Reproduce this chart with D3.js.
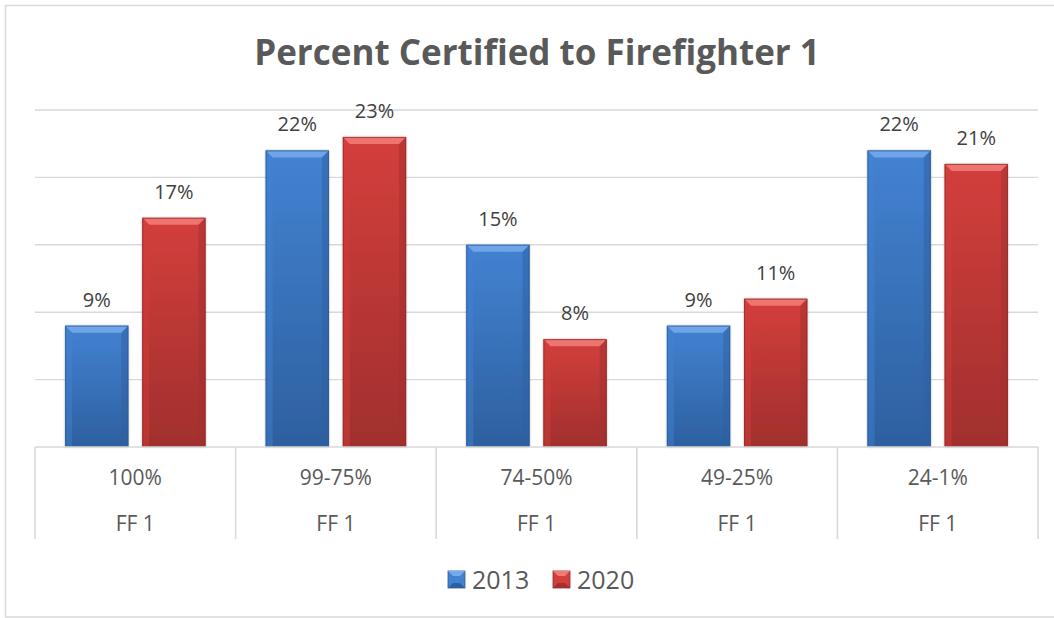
<!DOCTYPE html>
<html>
<head>
<meta charset="utf-8">
<script src="https://cdn.jsdelivr.net/npm/d3@7"></script>
<style>
  html, body { margin: 0; padding: 0; background: #fff; }
  svg { display: block; font-family: "Open Sans", Lato, sans-serif; }
</style>
</head>
<body>
<svg id="chart" width="1054" height="618"></svg>
<script>
// Share of departments certified to Firefighter 1, by certification band
const categories = ["100%", "99-75%", "74-50%", "49-25%", "24-1%"];
const subLabel = "FF 1";
const seriesNames = ["2013", "2020"];
const values2013 = [9, 22, 15, 9, 22];
const values2020 = [17, 23, 8, 11, 21];
const yTicks = [0, 5, 10, 15, 20, 25];

const palette = {
  "2013": { light: "#74a9ea", mid: "#4382d2", dark: "#2d609f", edge: "#2a5a94" },
  "2020": { light: "#f07a76", mid: "#d33f3c", dark: "#a12f2d", edge: "#8f2a28" }
};

const svg = d3.select("#chart");
const textColor = "#595959";
const gridColor = "#d9d9d9";

const plot = { left: 35, right: 1038, top: 110, bottom: 447 };

const x0 = d3.scaleBand().domain(categories).range([plot.left, plot.right]).padding(0);
const x1 = d3.scaleBand().domain(seriesNames).range([0, x0.bandwidth()])
  .paddingInner(0.18).paddingOuter(0.39);
const y = d3.scaleLinear().domain([0, 25]).range([plot.bottom, plot.top]);

// chart frame
svg.append("rect")
  .attr("x", 5.5).attr("y", 5.5).attr("width", 1060).attr("height", 611.5)
  .attr("fill", "none").attr("stroke", gridColor).attr("stroke-width", 1.5);

// title
svg.append("text")
  .attr("x", 537).attr("y", 65)
  .attr("text-anchor", "middle")
  .attr("font-size", 35).attr("font-weight", "bold")
  .attr("fill", textColor)
  .text("Percent Certified to Firefighter 1");

// horizontal gridlines
svg.append("g").selectAll("line").data(yTicks.slice(1)).join("line")
  .attr("x1", plot.left).attr("x2", plot.right)
  .attr("y1", d => y(d)).attr("y2", d => y(d))
  .attr("stroke", gridColor).attr("stroke-width", 1.4);

// gradients per series
const defs = svg.append("defs");
seriesNames.forEach(s => {
  const g = defs.append("linearGradient").attr("id", "grad" + s)
    .attr("x1", 0).attr("y1", 0).attr("x2", 0).attr("y2", 1);
  g.append("stop").attr("offset", "0%").attr("stop-color", palette[s].mid);
  g.append("stop").attr("offset", "100%").attr("stop-color", palette[s].dark);
});
const f = defs.append("filter").attr("id", "shadow").attr("x", "-20%").attr("y", "-20%")
  .attr("width", "140%").attr("height", "140%");
f.append("feDropShadow").attr("dx", 0).attr("dy", 0).attr("stdDeviation", 1.2)
  .attr("flood-color", "#000").attr("flood-opacity", 0.35);

const rows = categories.map((c, i) => ({
  cat: c,
  bars: [
    { series: "2013", value: values2013[i] },
    { series: "2020", value: values2020[i] }
  ]
}));

const groups = svg.append("g").selectAll("g").data(rows).join("g")
  .attr("transform", d => `translate(${x0(d.cat)},0)`);

const bars = groups.selectAll("g.bar").data(d => d.bars).join("g").attr("class", "bar");

bars.each(function(d) {
  const g = d3.select(this);
  const bx = x1(d.series), bw = x1.bandwidth();
  const top = y(d.value), bot = y(0), h = bot - top;
  const c = palette[d.series];
  const b = 7; // bevel depth
  g.append("rect").attr("x", bx).attr("y", top).attr("width", bw).attr("height", h)
    .attr("fill", `url(#grad${d.series})`).attr("filter", "url(#shadow)");
  // top bevel
  g.append("path")
    .attr("d", `M${bx},${top}L${bx + bw},${top}L${bx + bw - b},${top + b}L${bx + b},${top + b}Z`)
    .attr("fill", c.light).attr("opacity", 0.9);
  // left bevel
  g.append("path")
    .attr("d", `M${bx},${top}L${bx + b},${top + b}L${bx + b},${bot}L${bx},${bot}Z`)
    .attr("fill", c.mid).attr("opacity", 0.45);
  // right bevel
  g.append("path")
    .attr("d", `M${bx + bw},${top}L${bx + bw - b},${top + b}L${bx + bw - b},${bot}L${bx + bw},${bot}Z`)
    .attr("fill", c.dark).attr("opacity", 0.5);
  g.append("rect").attr("x", bx + 0.5).attr("y", top + 0.5).attr("width", bw - 1).attr("height", h - 1)
    .attr("fill", "none").attr("stroke", c.edge).attr("stroke-width", 1).attr("opacity", 0.7);
  // value label
  g.append("text")
    .attr("x", bx + bw / 2).attr("y", top - 19)
    .attr("text-anchor", "middle").attr("font-size", 20).attr("fill", "#404040")
    .text(d.value + "%");
});

// baseline and category dividers
svg.append("line").attr("x1", plot.left).attr("x2", plot.right)
  .attr("y1", plot.bottom).attr("y2", plot.bottom)
  .attr("stroke", gridColor).attr("stroke-width", 1.6);

const edges = categories.map(c => x0(c)).concat([plot.right]);
svg.append("g").selectAll("line").data(edges).join("line")
  .attr("x1", d => d).attr("x2", d => d)
  .attr("y1", plot.bottom).attr("y2", 539)
  .attr("stroke", gridColor).attr("stroke-width", 1.6);

// category labels (two rows)
const xAxis = svg.append("g");
xAxis.selectAll("text.cat").data(categories).join("text").attr("class", "cat")
  .attr("x", d => x0(d) + x0.bandwidth() / 2).attr("y", 485)
  .attr("text-anchor", "middle").attr("font-size", 21).attr("fill", textColor)
  .text(d => d);
xAxis.selectAll("text.sub").data(categories).join("text").attr("class", "sub")
  .attr("x", d => x0(d) + x0.bandwidth() / 2).attr("y", 531)
  .attr("text-anchor", "middle").attr("font-size", 21).attr("fill", textColor)
  .text(subLabel);

// legend
const legendX = [448, 553];
const legend = svg.append("g").selectAll("g").data(seriesNames).join("g")
  .attr("transform", (d, i) => `translate(${legendX[i]},571)`);
legend.each(function(s) {
  const g = d3.select(this);
  const c = palette[s], w = 17, b = 5;
  g.append("rect").attr("width", w).attr("height", w).attr("fill", c.mid)
    .attr("stroke", c.edge).attr("stroke-width", 0.8);
  g.append("path").attr("d", `M0,0L${w},0L${w - b},${b}L${b},${b}Z`).attr("fill", c.light);
  g.append("path").attr("d", `M0,${w}L${w},${w}L${w - b},${w - b}L${b},${w - b}Z`).attr("fill", c.dark);
  g.append("text").attr("x", 24).attr("y", 17.5)
    .attr("font-size", 25).attr("fill", textColor).text(s);
});
</script>
</body>
</html>
